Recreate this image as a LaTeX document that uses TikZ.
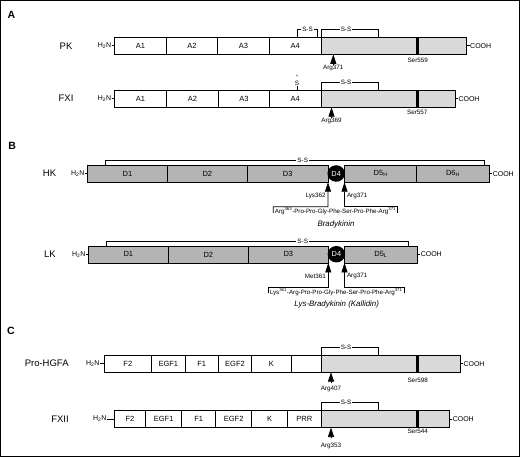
\documentclass[tikz,border=0pt]{standalone}
\usepackage{fontspec}
\setmainfont{Liberation Sans}
\usetikzlibrary{arrows.meta,calc,shapes.geometric}
\definecolor{lgray}{HTML}{D9D9D9}
\definecolor{mgray}{HTML}{B4B4B4}
\newcommand\fsz[1]{\fontsize{#1}{#1}\selectfont}
\newcommand\segm[6]{\node[seg,fill=#5,minimum width={(#3)-(#2)}] (#1) at ({((#2)+(#3))/2},#4) {#6};}
\begin{document}
\begin{tikzpicture}[x=1pt,y=-1pt,
 seg/.style={draw,line width=0.7pt,inner sep=0pt,outer sep=0pt,minimum height=17pt,font=\fsz{7.5}},
 smalltxt/.style={font=\fsz{6.3},inner sep=0.5pt},
 sslbl/.style={font=\fsz{6.3},fill=white,inner sep=1.2pt},
 term/.style={font=\fsz{7},inner sep=0.3pt},
 rowlbl/.style={font=\fsz{9.5},inner sep=0pt},
 panel/.style={font=\fsz{10.5}\bfseries,inner sep=0pt},
 captxt/.style={font=\fsz{7.9}\itshape,inner sep=0pt},
 seqtxt/.style={font=\fsz{6.2},inner sep=0pt},
 br/.style={line width=0.65pt},
 tick/.style={line width=0.65pt},
 ser/.style={fill=black,minimum width=3pt,minimum height=17pt,inner sep=0pt,outer sep=0pt},
 d4/.style={ellipse,fill=black,text=white,minimum width=17.5pt,minimum height=16.5pt,inner sep=0pt,font=\fsz{7.4}},
 cleave/.style={-{Triangle[width=6pt,length=9.5pt]},line width=0.65pt}]
\useasboundingbox (0,0) rectangle (520,457);
\draw[line width=1.2pt] (0.7,0.7) rectangle (519.3,456.3);

% ---------- Panel A ----------
\node[panel] (pA) at (11.5,15.3) {A};
% PK
\node[rowlbl] (pkname) at (66,45.8) {PK};
\segm{pkA1}{114.7}{166.3}{45.8}{white}{A1}
\segm{pkA2}{166.3}{217.7}{45.8}{white}{A2}
\segm{pkA3}{217.7}{269.3}{45.8}{white}{A3}
\segm{pkA4}{269.3}{321.3}{45.8}{white}{A4}
\segm{pkC}{321.3}{466.7}{45.8}{lgray}{}
\node[ser] (pkS) at (417.5,45.8) {};
\node[smalltxt] (pkSl) at (417.7,60) {Ser559};
\node[term,anchor=east] (pkN) at (111.7,45.8) {H\textsubscript{2}N};
\draw[tick] (pkN.east) -- (pkA1.west);
\node[term,anchor=west] (pkCO) at (469.7,45.8) {COOH};
\draw[tick] (pkC.east) -- (pkCO.west);
\node[smalltxt] (pkR) at (333.3,68.3) {Arg371};
\coordinate (pkcut) at (pkR.north |- pkC.south);
\draw[cleave] ([yshift=-10pt]pkcut) -- (pkcut);
\draw[br] (297,37.3) -- (297,29.3) -- (317.7,29.3) -- (317.7,37.3);
\node[sslbl] (pkss1) at (307.5,29.3) {S-S};
\draw[br] (pkC.north west) -- (321.3,29.3) -| (378.3,37.3);
\node[sslbl] (pkss2) at (346,29.3) {S-S};
% FXI
\node[rowlbl] (fxiname) at (66,98.7) {FXI};
\segm{fxiA1}{114.7}{166.3}{98.7}{white}{A1}
\segm{fxiA2}{166.3}{218.7}{98.7}{white}{A2}
\segm{fxiA3}{218.7}{269.3}{98.7}{white}{A3}
\segm{fxiA4}{269.3}{321.3}{98.7}{white}{A4}
\segm{fxiC}{321.3}{455}{98.7}{lgray}{}
\node[ser] (fxiS) at (417.3,98.7) {};
\node[smalltxt] (fxiSl) at (417.3,112.7) {Ser557};
\node[term,anchor=east] (fxiN) at (111.7,98.7) {H\textsubscript{2}N};
\draw[tick] (fxiN.east) -- (fxiA1.west);
\node[term,anchor=west] (fxiCO) at (458,98.7) {COOH};
\draw[tick] (fxiC.east) -- (fxiCO.west);
\node[smalltxt] (fxiR) at (331.5,120.7) {Arg369};
\coordinate (fxicut) at (fxiR.north |- fxiC.south);
\draw[cleave] ([yshift=-10pt]fxicut) -- (fxicut);
\node[smalltxt,inner sep=0pt] (fxiSfree) at (297,83.3) {S};
\node[font=\fsz{5},inner sep=0pt,anchor=south] (fxiast) at (297,79.2) {*};
\draw[br] (fxiSfree.south) -- (fxiSfree.south |- fxiA4.north);
\draw[br] (fxiC.north west) -- (321.3,82.7) -| (378.3,90);
\node[sslbl] (fxiss) at (346,82.7) {S-S};

% ---------- Panel B ----------
\node[panel] (pB) at (12.2,146) {B};
% HK
\node[rowlbl] (hkname) at (49.5,173.7) {HK};
\segm{hkD1}{87.7}{167.3}{173.7}{mgray}{D1}
\segm{hkD2}{167.3}{247.3}{173.7}{mgray}{D2}
\segm{hkD3}{247.3}{328}{173.7}{mgray}{D3}
\segm{hkD5}{344.5}{416.7}{173.7}{mgray}{D5\textsubscript{H}}
\segm{hkD6}{416.7}{489.3}{173.7}{mgray}{D6\textsubscript{H}}
\node[d4] (hkD4) at (336.2,173.5) {D4};
\node[term,anchor=east] (hkN) at (85,173.7) {H\textsubscript{2}N};
\draw[tick] (hkN.east) -- (hkD1.west);
\node[term,anchor=west] (hkCO) at (492.3,173.7) {COOH};
\draw[tick] (hkD6.east) -- (hkCO.west);
\draw[br] (hkD1.north west) ++(17.6,0) -- (105.3,160) -| (484.3,165);
\node[sslbl] (hkss) at (302.7,160) {S-S};
\node[smalltxt,anchor=east] (hkK) at (326.3,195.7) {Lys362};
\node[smalltxt,anchor=west] (hkR) at (346.3,195.7) {Arg371};
\node[seqtxt] (hkseq) at (335.5,210.9) {Arg\textsuperscript{363}-Pro-Pro-Gly-Phe-Ser-Pro-Phe-Arg\textsuperscript{371}};
\draw[br,cleave] (273.3,213) -- (273.3,206.8) -- (328,206.8) -- (hkD3.south east);
\draw[br,cleave] (397.7,213) -- (397.7,206.8) -- (344.5,206.8) -- (hkD5.south west);
\node[captxt] (hkcap) at (336,224.3) {Bradykinin};
% LK
\node[rowlbl] (lkname) at (50,254.4) {LK};
\segm{lkD1}{88.3}{168.3}{254.4}{mgray}{D1}
\segm{lkD2}{168.3}{248.3}{254.4}{mgray}{D2}
\segm{lkD3}{248.3}{328.3}{254.4}{mgray}{D3}
\segm{lkD5}{344.5}{417.3}{254.4}{mgray}{D5\textsubscript{L}}
\node[d4] (lkD4) at (336.4,254.2) {D4};
\node[term,anchor=east] (lkN) at (86,254.4) {H\textsubscript{2}N};
\draw[tick] (lkN.east) -- (lkD1.west);
\node[term,anchor=west] (lkCO) at (420.3,254.4) {COOH};
\draw[tick] (lkD5.east) -- (lkCO.west);
\draw[br] (106,245.9) -- (106,241) -| (408.3,245.9);
\node[sslbl] (lkss) at (302.7,241) {S-S};
\node[smalltxt,anchor=east] (lkM) at (326.6,276) {Met361};
\node[smalltxt,anchor=west] (lkR) at (346.3,276) {Arg371};
\node[seqtxt] (lkseq) at (336.2,291.9) {Lys\textsuperscript{361}-Arg-Pro-Pro-Gly-Phe-Ser-Pro-Phe-Arg\textsuperscript{371}};
\draw[br,cleave] (268.3,293.5) -- (268.3,286.9) -- (328.3,286.9) -- (lkD3.south east);
\draw[br,cleave] (404,293.5) -- (404,286.9) -- (344.5,286.9) -- (lkD5.south west);
\node[captxt] (lkcap) at (336.7,304) {Lys-Bradykinin (Kallidin)};

% ---------- Panel C ----------
\node[panel] (pC) at (10.8,330.7) {C};
% Pro-HGFA
\node[rowlbl] (hgname) at (46.7,363.7) {Pro-HGFA};
\segm{hgF2}{104}{151.7}{363.7}{white}{F2}
\segm{hgE1}{151.7}{185}{363.7}{white}{EGF1}
\segm{hgF1}{185}{218.3}{363.7}{white}{F1}
\segm{hgE2}{218.3}{251.7}{363.7}{white}{EGF2}
\segm{hgK}{251.7}{291}{363.7}{white}{K}
\segm{hgX}{291}{321.3}{363.7}{white}{}
\segm{hgC}{321.3}{460}{363.7}{lgray}{}
\node[ser] (hgS) at (417.7,363.7) {};
\node[smalltxt] (hgSl) at (417.7,380) {Ser598};
\node[term,anchor=east] (hgN) at (100,363.7) {H\textsubscript{2}N};
\draw[tick] (hgN.east) -- (hgF2.west);
\node[term,anchor=west] (hgCO) at (463,363.7) {COOH};
\draw[tick] (hgC.east) -- (hgCO.west);
\node[smalltxt] (hgR) at (331,389.3) {Arg407};
\coordinate (hgcut) at (hgR.north |- hgC.south);
\draw[cleave] ([yshift=-10pt]hgcut) -- (hgcut);
\draw[br] (hgC.north west) -- (321.3,347.3) -| (378.3,355.2);
\node[sslbl] (hgss) at (346,347.3) {S-S};
% FXII
\node[rowlbl] (fxiiname) at (60,419) {FXII};
\segm{fxiiF2}{114.3}{145.7}{419}{white}{F2}
\segm{fxiiE1}{145.7}{181.7}{419}{white}{EGF1}
\segm{fxiiF1}{181.7}{215.7}{419}{white}{F1}
\segm{fxiiE2}{215.7}{251.7}{419}{white}{EGF2}
\segm{fxiiK}{251.7}{287.3}{419}{white}{K}
\segm{fxiiP}{287.3}{321.3}{419}{white}{PRR}
\segm{fxiiC}{321.3}{449.3}{419}{lgray}{}
\node[ser] (fxiiS) at (417.7,419) {};
\node[smalltxt] (fxiiSl) at (417.7,431.7) {Ser544};
\node[term,anchor=east] (fxiiN) at (107,419) {H\textsubscript{2}N};
\draw[tick] (fxiiN.east) -- (fxiiF2.west);
\node[term,anchor=west] (fxiiCO) at (452.3,419) {COOH};
\draw[tick] (fxiiC.east) -- (fxiiCO.west);
\node[smalltxt] (fxiiR) at (331,446) {Arg353};
\coordinate (fxiicut) at (fxiiR.north |- fxiiC.south);
\draw[cleave] ([yshift=-10pt]fxiicut) -- (fxiicut);
\draw[br] (fxiiC.north west) -- (321.3,402.3) -| (378.3,410.5);
\node[sslbl] (fxiiss) at (346,402.3) {S-S};
\end{tikzpicture}
\end{document}
